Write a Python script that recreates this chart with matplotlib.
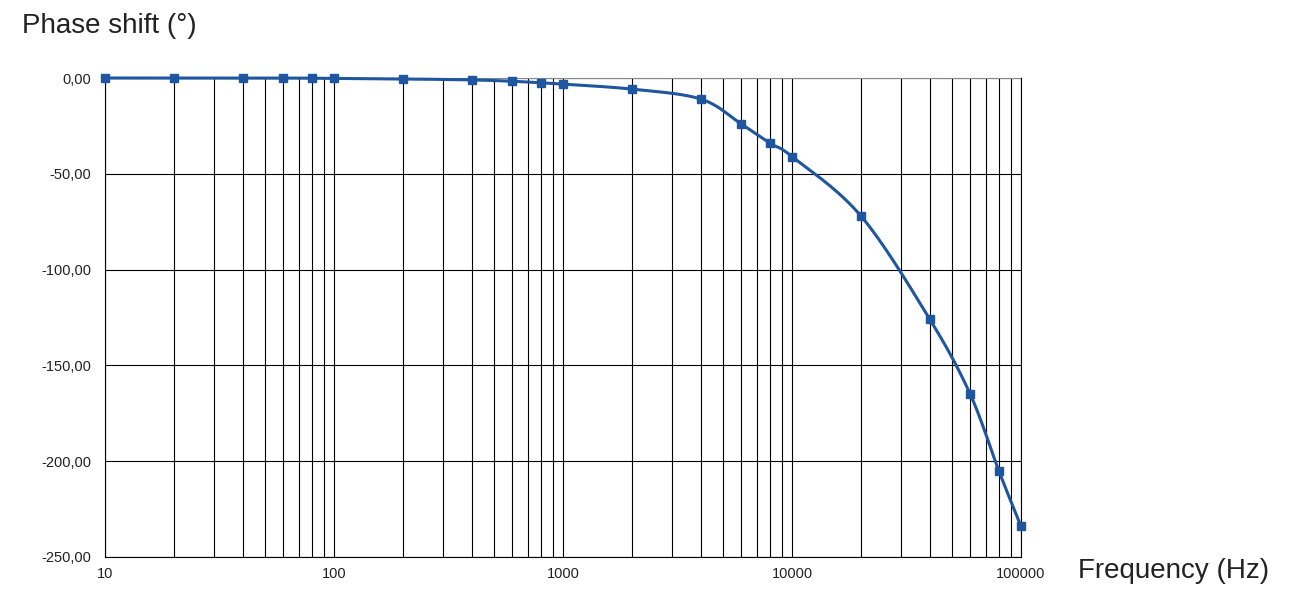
import matplotlib
matplotlib.use("Agg")
import matplotlib.pyplot as plt
import numpy as np
from matplotlib.ticker import FixedLocator, FuncFormatter, NullFormatter

freq = [10, 20, 40, 60, 80, 100, 200, 400, 600, 800, 1000, 2000, 4000, 6000, 8000,
        10000, 20000, 40000, 60000, 80000, 100000]
phase = [0, 0, 0, 0, -0.1, -0.2, -0.5, -1.0, -1.7, -2.5, -3.2, -5.8, -11, -24, -34,
         -41, -72, -126, -165, -205, -234]

plt.rcParams['font.family'] = ['Liberation Sans', 'DejaVu Sans']
W, H = 1293, 605
fig = plt.figure(figsize=(W/100, H/100), dpi=100)
ax = fig.add_axes([105/W, 1-557/H, (1021-105)/W, (557-78)/H])

# smooth curve (Catmull-Rom in log-x space)
lx = np.log10(freq); py = np.array(phase, float)
P = np.column_stack([lx, py])
Pp = np.vstack([2*P[0]-P[1], P, 2*P[-1]-P[-2]])
cx, cy = [], []
for i in range(1, len(Pp)-2):
    p0, p1, p2, p3 = Pp[i-1], Pp[i], Pp[i+1], Pp[i+2]
    t = np.linspace(0, 1, 30)[:, None]
    c = 0.5*((2*p1) + (-p0+p2)*t + (2*p0-5*p1+4*p2-p3)*t**2 + (-p0+3*p1-3*p2+p3)*t**3)
    cx.extend(c[:, 0]); cy.extend(c[:, 1])
ax.plot(10**np.array(cx), cy, color='#1f56a0', lw=2.2, zorder=3, clip_on=False)
ax.plot(freq, phase, 's', color='#1f56a0', ms=6, zorder=4, clip_on=False)

ax.set_xscale('log')
ax.set_xlim(10, 100000)
ax.set_ylim(-250, 0)
ax.set_yticks(np.arange(-250, 1, 50))
ax.yaxis.set_major_formatter(FuncFormatter(lambda v, p: f"{v:.2f}".replace('.', ',')))
ax.xaxis.set_major_locator(FixedLocator([10, 100, 1000, 10000, 100000]))
ax.xaxis.set_major_formatter(FuncFormatter(lambda v, p: f"{int(round(v))}"))
minors = [m*10**e for e in range(1, 5) for m in range(2, 10)]
ax.xaxis.set_minor_locator(FixedLocator(minors))
ax.xaxis.set_minor_formatter(NullFormatter())
ax.grid(True, which='both', axis='x', color='black', lw=0.8)
ax.grid(True, which='major', axis='y', color='black', lw=0.8)
ax.tick_params(which='both', length=0, labelsize=10.5, colors='#222222')
ax.tick_params(axis='x', pad=7)
ax.tick_params(axis='y', pad=10)
ax.spines['top'].set_visible(False)
for s in ['left', 'right', 'bottom']:
    ax.spines[s].set_color('black'); ax.spines[s].set_linewidth(0.8)
ax.axhline(0, color='#888888', lw=0.8, clip_on=False, zorder=2)

fig.text(22/W, 1-26/H, "Phase shift (°)", fontsize=20, va='center', ha='left', color='#222222')
fig.text(1078/W, 1-571/H, "Frequency (Hz)", fontsize=20, va='center', ha='left', color='#222222')
fig.savefig("out.png", dpi=100)
